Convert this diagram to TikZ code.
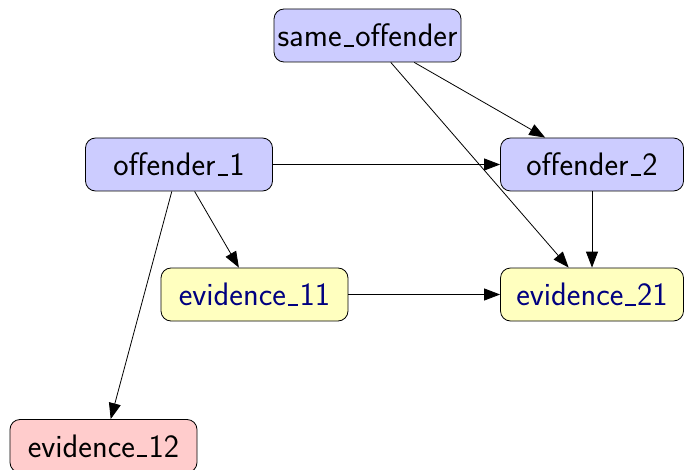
\documentclass[tikz,border=0pt]{standalone}
\usetikzlibrary{arrows.meta}
\definecolor{hypfill}{RGB}{204,204,255}
\definecolor{evfill}{RGB}{255,255,191}
\definecolor{leaffill}{RGB}{255,204,204}
\definecolor{evtext}{RGB}{0,0,128}
\newcommand\usc{\leavevmode\kern.06em\vbox{\hrule height 1.8pt width.32em}\kern.04em}
\begin{document}
\begin{tikzpicture}[x=1pt,y=-1pt,
  nodebox/.style={draw=black, line width=0.8pt, rounded corners=10pt,
    minimum width=187pt, minimum height=53pt, inner sep=0pt,
    font=\fontsize{32.5}{38}\selectfont\sffamily},
  hyp/.style={nodebox, fill=hypfill},
  ev/.style={nodebox, fill=evfill, text=evtext},
  leaf/.style={nodebox, fill=leaffill},
  narrow/.style={minimum width=183pt},
  link/.style={draw=black, line width=0.8pt, -{Triangle[length=16pt,width=12pt]}}]
\useasboundingbox (0,0) rectangle (684,470);
\node[hyp] (same) at (367.5,35.5) {same\usc offender};
\node[hyp] (off1) at (179,164.5) {offender\usc 1};
\node[hyp, narrow] (off2) at (592,164.5) {offender\usc 2};
\node[ev] (ev11) at (254.5,294.5) {evidence\usc 11};
\node[ev, narrow] (ev21) at (592,294.5) {evidence\usc 21};
\node[leaf] (ev12) at (103.5,446) {evidence\usc 12};
\draw[link] (same) -- (off2);
\draw[link] (same) -- (ev21);
\draw[link] (off1) -- (off2);
\draw[link] (off1) -- (ev11);
\draw[link] (off1) -- (ev12);
\draw[link] (off2) -- (ev21);
\draw[link] (ev11) -- (ev21);
\end{tikzpicture}
\end{document}
